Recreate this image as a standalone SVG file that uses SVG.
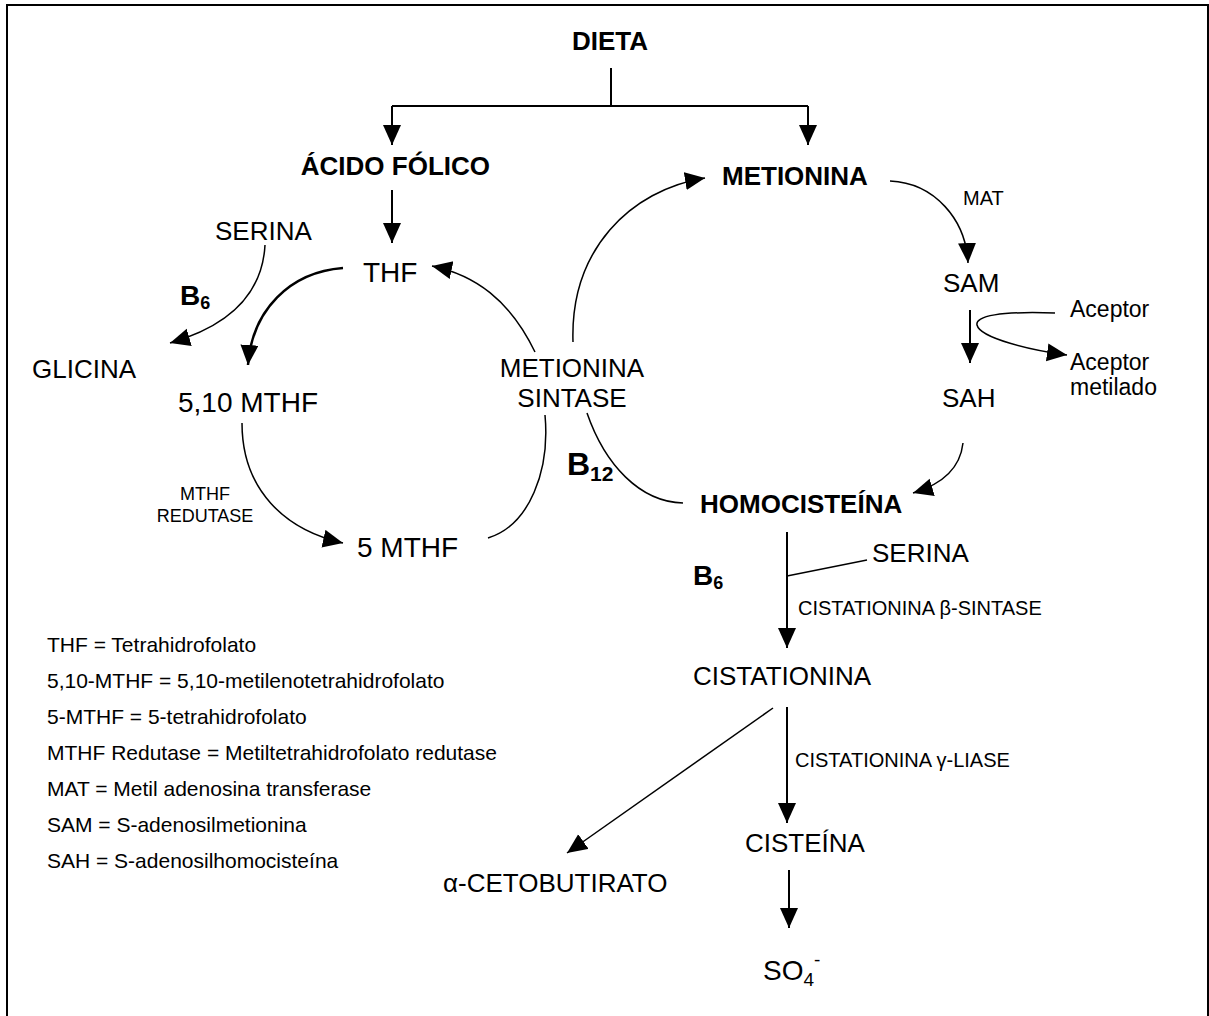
<svg xmlns="http://www.w3.org/2000/svg" width="1209" height="1016" viewBox="0 0 1209 1016">
<style>
text{font-family:"Liberation Sans",Arial,sans-serif;fill:#000}
.b{font-weight:bold;font-size:26px}
.n{font-size:26px}
.l{font-size:28px}
.s{font-size:20px}
.lg{font-size:21px}
.c{fill:none;stroke:#000;stroke-width:1.5}
.t{fill:none;stroke:#000;stroke-width:2}
</style>
<defs>
<marker id="ah" markerUnits="userSpaceOnUse" markerWidth="22" markerHeight="20" refX="20" refY="9" orient="auto" viewBox="0 0 22 20">
<path d="M0,0 L20,9 L0,18 z" fill="#000"/>
</marker>
</defs>
<rect x="7" y="5" width="1201" height="1020" fill="#fff" stroke="#000" stroke-width="2"/>

<g id="connectors">
<path class="t" d="M611,68 L611,106"/>
<path class="t" d="M392,106 L808,106"/>
<path class="t" d="M392,106 L392,145" marker-end="url(#ah)"/>
<path class="t" d="M808,106 L808,145" marker-end="url(#ah)"/>
<path class="t" d="M392,190 L392,243" marker-end="url(#ah)"/>
<path class="c" d="M265,245 C262,300 222,328 170,343" marker-end="url(#ah)"/>
<path class="t" style="stroke-width:2.5" d="M343,268 C290,272 252,310 248,365" marker-end="url(#ah)"/>
<path class="c" d="M535,352 C510,300 475,275 432,266" marker-end="url(#ah)"/>
<path class="c" d="M242,423 C242,490 285,530 343,543" marker-end="url(#ah)"/>
<path class="c" d="M488,538 C530,525 550,470 545,415"/>
<path class="c" d="M573,342 C570,250 630,190 705,178" marker-end="url(#ah)"/>
<path class="c" d="M587,413 C605,465 640,502 683,503"/>
<path class="c" d="M890,181 C935,183 966,220 968,263" marker-end="url(#ah)"/>
<path class="t" d="M970,310 L970,363" marker-end="url(#ah)"/>
<path class="c" d="M1055,313 C1000,311 975,316 977,325 C980,338 1030,350 1067,355" marker-end="url(#ah)"/>
<path class="c" d="M963,443 C960,470 940,485 913,493" marker-end="url(#ah)"/>
<path class="t" d="M787,532 L787,648" marker-end="url(#ah)"/>
<path class="c" d="M787,576 L867,560"/>
<path class="c" d="M773,708 L567,853" marker-end="url(#ah)"/>
<path class="t" d="M787,707 L787,823" marker-end="url(#ah)"/>
<path class="t" d="M789,870 L789,928" marker-end="url(#ah)"/>
</g>

<g id="dieta"><text class="b" x="572" y="50">DIETA</text></g>
<g id="acido-folico"><text class="b" x="490" y="175" text-anchor="end">ÁCIDO FÓLICO</text></g>
<g id="thf"><text class="l" x="363" y="282">THF</text></g>
<g id="serina1"><text class="n" x="215" y="240">SERINA</text></g>
<g id="b6-1"><text x="180" y="305" style="font-weight:bold;font-size:28px">B<tspan style="font-size:18px" dy="4">6</tspan></text></g>
<g id="glicina"><text class="n" x="32" y="378">GLICINA</text></g>
<g id="mthf510"><text class="l" x="178" y="412">5,10 MTHF</text></g>
<g id="mthf-redutase"><text x="205" y="500" text-anchor="middle" style="font-size:18px">MTHF</text><text x="205" y="522" text-anchor="middle" style="font-size:18px">REDUTASE</text></g>
<g id="mthf5"><text class="l" x="357" y="557">5 MTHF</text></g>
<g id="metionina-sintase"><text class="n" x="572" y="377" text-anchor="middle">METIONINA</text><text class="n" x="572" y="407" text-anchor="middle">SINTASE</text></g>
<g id="b12"><text x="567" y="475" style="font-weight:bold;font-size:32px">B<tspan style="font-size:21px" dy="6">12</tspan></text></g>
<g id="metionina"><text class="b" x="722" y="185">METIONINA</text></g>
<g id="mat"><text class="s" x="963" y="205">MAT</text></g>
<g id="sam"><text class="n" x="943" y="292">SAM</text></g>
<g id="sah"><text class="n" x="942" y="407">SAH</text></g>
<g id="aceptor"><text x="1070" y="317" style="font-size:23px">Aceptor</text></g>
<g id="aceptor-metilado"><text x="1070" y="370" style="font-size:23px">Aceptor</text><text x="1070" y="395" style="font-size:23px">metilado</text></g>
<g id="homocisteina"><text class="b" x="700" y="513">HOMOCISTEÍNA</text></g>
<g id="serina2"><text class="n" x="872" y="562">SERINA</text></g>
<g id="b6-2"><text x="693" y="585" style="font-weight:bold;font-size:28px">B<tspan style="font-size:18px" dy="4">6</tspan></text></g>
<g id="cbs"><text class="s" x="798" y="615">CISTATIONINA β-SINTASE</text></g>
<g id="cistationina"><text class="n" x="693" y="685">CISTATIONINA</text></g>
<g id="cgl"><text class="s" x="795" y="767">CISTATIONINA γ-LIASE</text></g>
<g id="cisteina"><text class="n" x="745" y="852">CISTEÍNA</text></g>
<g id="cetobutirato"><text class="n" x="443" y="892">α-CETOBUTIRATO</text></g>
<g id="so4"><text class="l" x="763" y="980">SO<tspan style="font-size:19px" dy="6">4</tspan><tspan style="font-size:19px" dy="-20">-</tspan></text></g>

<g id="legend">
<text class="lg" x="47" y="652">THF = Tetrahidrofolato</text>
<text class="lg" x="47" y="688">5,10-MTHF = 5,10-metilenotetrahidrofolato</text>
<text class="lg" x="47" y="724">5-MTHF = 5-tetrahidrofolato</text>
<text class="lg" x="47" y="760">MTHF Redutase = Metiltetrahidrofolato redutase</text>
<text class="lg" x="47" y="796">MAT = Metil adenosina transferase</text>
<text class="lg" x="47" y="832">SAM = S-adenosilmetionina</text>
<text class="lg" x="47" y="868">SAH = S-adenosilhomocisteína</text>
</g>
</svg>
